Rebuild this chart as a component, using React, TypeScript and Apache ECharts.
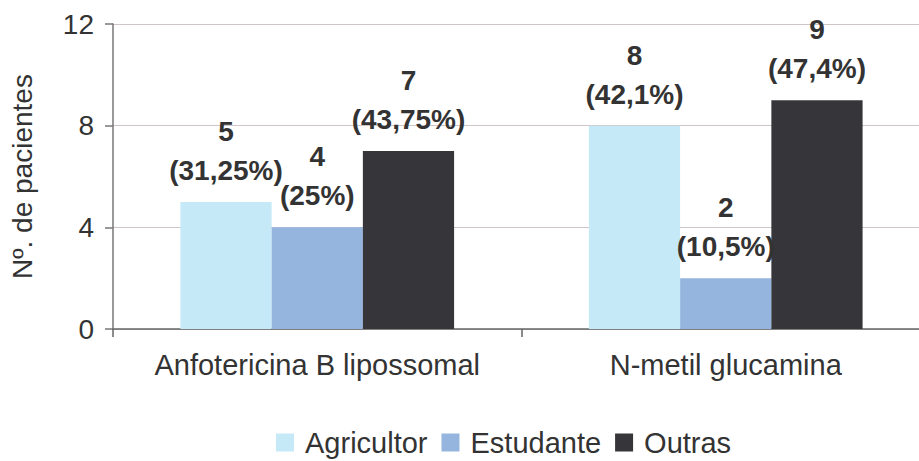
import React, { useEffect, useRef } from "react";
import * as echarts from "echarts";

const categories = ["Anfotericina B lipossomal", "N-metil glucamina"];
const seriesNames = ["Agricultor", "Estudante", "Outras"];
const agricultor = [5, 8];
const estudante = [4, 2];
const outras = [7, 9];
const agricultorPct = ["31,25%", "42,1%"];
const estudantePct = ["25%", "10,5%"];
const outrasPct = ["43,75%", "47,4%"];
const yTicks = [0, 4, 8, 12];

const colors = ["#C6E9F8", "#95B5DE", "#36353A"];
const FONT = "'Liberation Sans', Arial, sans-serif";

export default function App() {
  const ref = useRef<HTMLDivElement>(null);
  useEffect(() => {
    document.body.style.margin = "0";
    if (!ref.current) return;
    const chart = echarts.init(ref.current, null, { renderer: "svg" });
    const values = [agricultor, estudante, outras];
    const pcts = [agricultorPct, estudantePct, outrasPct];
    chart.setOption({
      animation: false,
      textStyle: { fontFamily: FONT },
      grid: { left: 112, right: 10, top: 24, bottom: 132, containLabel: false },
      legend: {
        data: seriesNames,
        top: 428,
        left: 276,
        padding: 0,
        itemWidth: 18,
        itemHeight: 18,
        itemGap: 14,
        icon: "rect",
        textStyle: { fontSize: 29, color: "#333", fontFamily: FONT, padding: [0, 0, 0, 6] },
      },
      xAxis: {
        type: "category",
        data: categories,
        axisLine: { show: true, lineStyle: { color: "#666", width: 1.5 } },
        axisTick: { show: true, length: 8, lineStyle: { color: "#666", width: 1.5 } },
        axisLabel: { fontSize: 29, color: "#333", margin: 21, interval: 0, fontFamily: FONT },
      },
      yAxis: {
        type: "value",
        min: yTicks[0],
        max: yTicks[yTicks.length - 1],
        interval: 4,
        name: "Nº. de pacientes",
        nameLocation: "middle",
        nameGap: 77,
        nameTextStyle: { fontSize: 28, color: "#333", fontFamily: FONT },
        axisLine: { show: true, lineStyle: { color: "#777", width: 1.5 } },
        axisTick: { show: true, length: 8, lineStyle: { color: "#777", width: 1.5 } },
        axisLabel: { fontSize: 28, color: "#333", margin: 19, fontFamily: FONT },
        splitLine: { show: true, lineStyle: { color: "#CFC5C5", width: 1.2 } },
      },
      series: seriesNames.map((name, i) => ({
        name,
        type: "bar",
        data: values[i],
        barGap: "0%",
        barCategoryGap: "33%",
        itemStyle: { color: colors[i] },
        label: {
          show: true,
          position: "top",
          distance: 12,
          fontSize: 28,
          fontWeight: "bold",
          lineHeight: 39,
          color: "#333",
          fontFamily: FONT,
          formatter: (p: any) => `${p.value}\n(${pcts[i][p.dataIndex]})`,
        },
      })),
    });
    return () => chart.dispose();
  }, []);
  return (
    <div style={{ width: 919, height: 461, overflow: "hidden" }}>
      <div ref={ref} style={{ width: 940, height: 461 }} />
    </div>
  );
}
